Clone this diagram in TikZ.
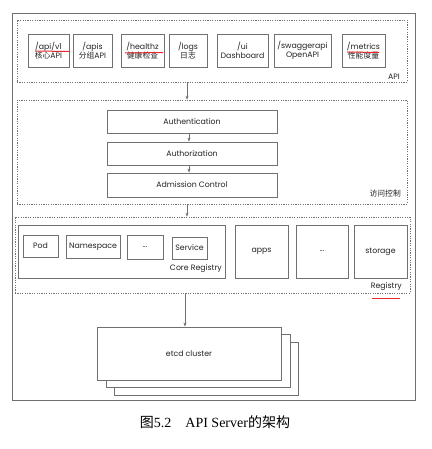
\documentclass[tikz,border=0pt]{standalone}
\usepackage{fontspec}
\setmainfont{Poppins}
\newfontfamily\cjk{Noto Sans CJK SC}
\newfontfamily\capfont{Liberation Serif}
\usetikzlibrary{arrows.meta}

\definecolor{linegray}{HTML}{707070}
\definecolor{txtgray}{HTML}{222222}
\definecolor{markred}{HTML}{E8282B}

\tikzset{
  box/.style={draw=linegray, line width=0.8pt, inner sep=0pt, align=center,
    text=txtgray, font=\fontsize{7.8}{9.5}\selectfont},
  group/.style={draw=linegray, line width=0.6pt, dash pattern=on 1.2pt off 1.2pt, inner sep=0pt},
  lbl/.style={text=txtgray, font=\fontsize{7.8}{9.5}\selectfont, inner sep=0pt},
  arr/.style={draw=linegray, line width=0.6pt, -{Stealth[length=4pt,width=3pt]}},
  redline/.style={draw=markred, line width=1pt}
}

\begin{document}
\begin{tikzpicture}[x=1pt,y=-1pt]
\useasboundingbox (0,0) rectangle (431,449);

% outer frame
\draw[linegray, line width=0.8pt] (12,13) rectangle (415,400);

% API group
\node[group, minimum width=390pt, minimum height=62pt] (api) at (212,51) {};
\node[box, minimum width=41pt, minimum height=33pt] (v1) at (48.5,50.5) {/api/v1\\{\cjk 核心}API};
\node[box, minimum width=39pt, minimum height=33pt] (apis) at (92.5,50.5) {/apis\\{\cjk 分组}API};
\node[box, minimum width=43pt, minimum height=33pt] (healthz) at (142.5,50.5) {/healthz\\{\cjk 健康检查}};
\node[box, minimum width=38pt, minimum height=33pt] (logs) at (188,50.5) {/logs\\{\cjk 日志}};
\node[box, minimum width=51pt, minimum height=33pt] (ui) at (242.5,50.5) {/ui\\Dashboard};
\node[box, minimum width=57pt, minimum height=33pt] (swagger) at (302.5,50.5) {/swaggerapi\\OpenAPI};
\node[box, minimum width=43pt, minimum height=33pt] (metrics) at (363.5,50.5) {/metrics\\{\cjk 性能度量}};
\node[lbl, anchor=east] (apilbl) at (400,77) {API};

% red marks
\draw[redline] (35,51) -- (69,51.5);
\draw[redline] (125,53) -- (163,52.5);
\draw[redline] (347,52) -- (379,52.5);
\draw[redline] (372,298.5) -- (400,298.5);

% access control group
\node[group, minimum width=390pt, minimum height=104pt] (acl) at (212,152) {};
\node[box, minimum width=170pt, minimum height=23pt] (authn) at (192,121.5) {Authentication};
\node[box, minimum width=170pt, minimum height=23pt] (authz) at (192,153.5) {Authorization};
\node[box, minimum width=170pt, minimum height=24pt] (admit) at (192,185) {Admission Control};
\node[lbl, anchor=east] (acllbl) at (401,194) {\cjk 访问控制};

% registry group
\node[group, minimum width=395pt, minimum height=76pt] (reg) at (212.5,255) {};
\node[box, minimum width=207pt, minimum height=53pt] (core) at (121.5,251.5) {};
\node[box, minimum width=35pt, minimum height=22pt] (pod) at (40.5,246) {Pod};
\node[box, minimum width=54pt, minimum height=23pt] (ns) at (93,246.5) {Namespace};
\node[box, minimum width=36pt, minimum height=24pt] (cdots) at (145,247) {...};
\node[box, minimum width=35pt, minimum height=22pt] (svc) at (189.5,248) {Service};
\node[lbl, anchor=east] (corelbl) at (222,269) {Core Registry};
\node[box, minimum width=53pt, minimum height=53pt] (apps) at (261.5,251.5) {apps};
\node[box, minimum width=52pt, minimum height=53pt] (rdots) at (322,251.5) {...};
\node[box, minimum width=53pt, minimum height=53pt] (storage) at (380.5,251.5) {storage};
\node[lbl, anchor=east] (reglbl) at (402,287) {Registry};

% etcd stack
\node[box, fill=white, minimum width=184pt, minimum height=53pt] (etcd3) at (206,368.5) {};
\node[box, fill=white, minimum width=184pt, minimum height=53pt] (etcd2) at (198,361) {};
\node[box, fill=white, minimum width=184pt, minimum height=53pt] (etcd) at (189,353.5) {etcd cluster};

% arrows
\draw[arr] (api.south -| 187,0) -- (acl.north -| 187,0);
\draw[arr] (authn.south -| 189,0) -- (authz.north -| 189,0);
\draw[arr] (authz.south -| 189,0) -- (admit.north -| 189,0);
\draw[arr] (acl.south -| 187,0) -- (reg.north -| 187,0);
\draw[arr] (reg.south -| 185,0) -- (etcd.north -| 185,0);

% caption
\node[font=\fontsize{14}{16}\selectfont, text=black] (cap) at (215,422) {{\cjk 图}\capfont 5.2\quad API Server{\cjk 的架构}};
\end{tikzpicture}
\end{document}
